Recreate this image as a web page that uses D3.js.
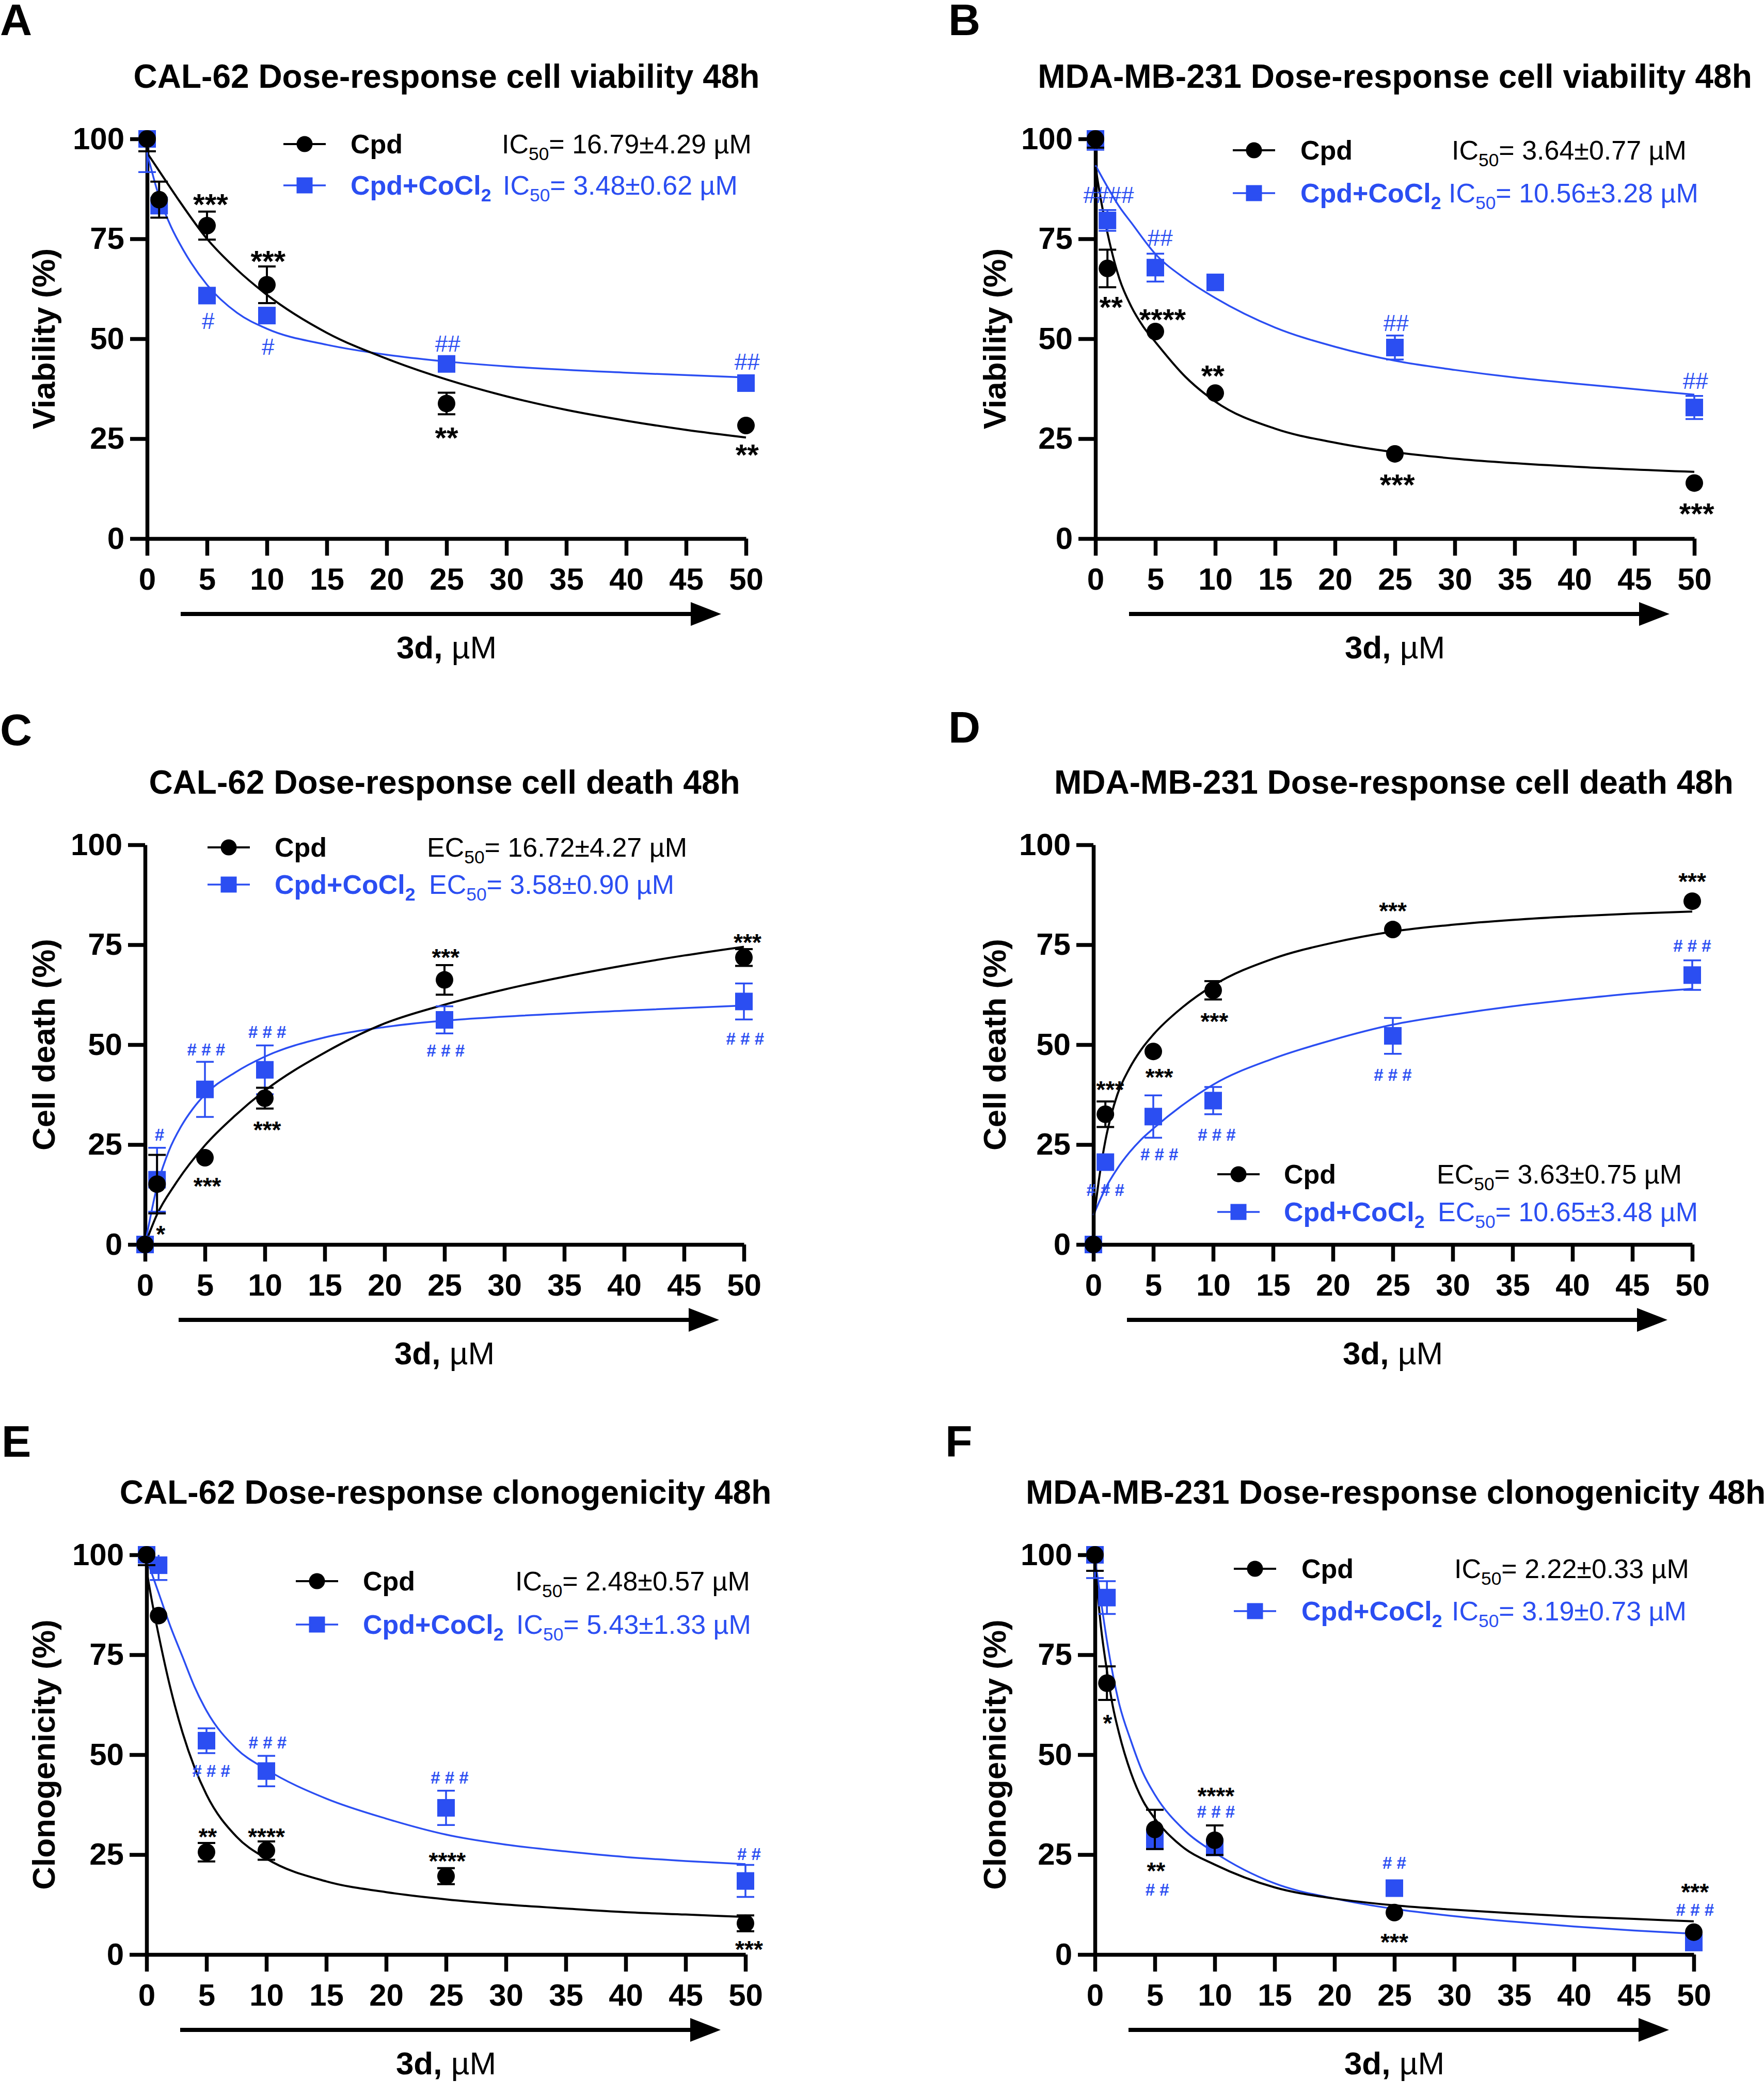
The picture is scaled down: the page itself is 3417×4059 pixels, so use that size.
<!DOCTYPE html>
<html><head><meta charset="utf-8">
<script src="https://cdn.jsdelivr.net/npm/d3@7"></script>
<style>
body{margin:0;background:#fff}
text{font-family:"Liberation Sans",Arial,Helvetica,sans-serif;white-space:pre}
</style>
</head><body>
<svg id="c" width="3417" height="4059" xmlns="http://www.w3.org/2000/svg"></svg>
<script>
// ---------------- DATA ----------------
const doses = [0, 1, 5, 10, 25, 50];
const xTicks = [0, 5, 10, 15, 20, 25, 30, 35, 40, 45, 50];
const yTicks = [0, 25, 50, 75, 100];
const seriesNames = ["Cpd", "Cpd+CoCl"];
const panelLetters = ["A", "B", "C", "D", "E", "F"];
const titles = [
  "CAL-62 Dose-response cell viability 48h",
  "MDA-MB-231 Dose-response cell viability 48h",
  "CAL-62 Dose-response cell death 48h",
  "MDA-MB-231 Dose-response cell death 48h",
  "CAL-62 Dose-response clonogenicity 48h",
  "MDA-MB-231 Dose-response clonogenicity 48h"
];
const yLabels = ["Viability (%)", "Viability (%)", "Cell death (%)", "Cell death (%)", "Clonogenicity (%)", "Clonogenicity (%)"];
const xLabelBold = "3d,";
const xLabelUnit = " µM";

// Panel A
const aCpd = [100, 84.8, 78.3, 63.5, 33.8, 28.3];
const aCpdSem = [3.1, 4.5, 3.5, 4.6, 2.7, 0];
const aCo = [100, 83.3, 60.8, 55.8, 43.7, 38.9];
const aCoSem = [8.3, 0, 0, 0, 0, 0];
const aCpdFit = [[0,96.5],[1,92],[2.5,85.3],[5,75],[7.5,67.3],[10,61],[15,51.5],[20,45],[25,39.8],[30,35.6],[35,32.2],[40,29.5],[45,27.2],[50,25.3]];
const aCoFit = [[0,96.5],[1,85.5],[2,78],[3,72.3],[5,63.5],[7.5,56.5],[10,52.5],[15,48.5],[20,46],[25,44.3],[30,43.1],[40,41.5],[50,40.3]];
const aMarks = [[5.3,85.3,"***",0],[10.1,71.2,"***",0],[25,27,"**",0],[50.1,22.7,"**",0],[5.1,54.5,"#",1],[10.1,48,"#",1],[25.1,48.8,"##",1],[50.1,44.2,"##",1]];
const aLegend = ["IC", "= 16.79±4.29 µM", "= 3.48±0.62 µM"];

// Panel B
const bCpd = [100, 67.6, 51.8, 36.4, 21.2, 13.9];
const bCpdSem = [2.2, 4.7, 0, 0, 0, 0];
const bCo = [100, 79.6, 67.8, 64.1, 47.8, 32.8];
const bCoSem = [2.7, 2.6, 3.5, 0, 3, 2.9];
const bCpdFit = [[0,93],[0.5,84],[1,76.5],[2,65],[3,58],[4,53],[5,49.2],[7.5,40.5],[10,34.3],[15,27.5],[20,24],[25,21.6],[30,20],[40,18],[50,16.7]];
const bCoFit = [[0,93.4],[1,88],[2,83],[3,79],[5,71.2],[7.5,65],[10,60.2],[15,52.8],[20,48],[25,44.5],[30,42.2],[35,40.3],[40,38.8],[45,37.4],[50,36]];
const bMarks = [[1.1,86,"####",1],[5.4,75.2,"##",1],[25.1,53.9,"##",1],[50.1,39.4,"##",1],[1.3,59.6,"**",0],[5.6,56.5,"****",0],[9.8,42.5,"**",0],[25.2,15.2,"***",0],[50.2,8,"***",0]];
const bLegend = ["IC", "= 3.64±0.77 µM", "= 10.56±3.28 µM"];

// Panel C
const cCpd = [0, 15.1, 21.7, 36.6, 66.2, 71.8];
const cCpdSem = [0, 7.3, 0, 2.6, 3.7, 2.1];
const cCo = [0, 16.2, 38.8, 43.7, 56.2, 60.8];
const cCoSem = [0, 8, 6.9, 6.1, 3.4, 4.5];
const cCpdFit = [[0,0],[1,7.5],[2.5,15],[5,24.8],[7.5,32.2],[10,38.5],[15,48],[20,55.3],[25,60],[30,63.8],[35,67],[40,69.8],[45,72.3],[50,74.5]];
const cCoFit = [[0,0],[1,14.5],[2,23.5],[3,29.5],[4,34],[5,37.5],[7.5,43],[10,47],[15,51.8],[20,54.4],[25,56],[30,57],[40,58.5],[50,59.8]];
const cMarks = [[1.3,4,"*",0],[5.2,16,"***",0],[10.2,30.1,"***",0],[25.1,73.2,"***",0],[50.3,76.9,"***",0],[1.2,27.4,"#",1],[5.1,48.8,"# # #",1],[10.2,53.2,"# # #",1],[25.1,48.5,"# # #",1],[50.1,51.5,"# # #",1]];
const cLegend = ["EC", "= 16.72±4.27 µM", "= 3.58±0.90 µM"];

// Panel D
const dCpd = [0, 32.6, 48.3, 63.6, 78.8, 85.9];
const dCpdSem = [0, 3.2, 0, 2.3, 0, 0];
const dCo = [0, 20.6, 32, 36, 52.2, 67.4];
const dCoSem = [0, 0, 5.3, 3.4, 4.5, 3.7];
const dCpdFit = [[0,5.5],[0.5,17],[1,26],[1.5,32.5],[2,37.5],[3,44],[4,48.8],[5,52.5],[7.5,59.5],[10,64.8],[15,71.5],[20,75.5],[25,78.3],[30,80],[35,81.2],[40,82.1],[45,82.8],[50,83.3]];
const dCoFit = [[0,7.3],[1,14],[2,19],[3,23],[4,26.3],[5,29],[7.5,35],[10,40],[15,46.5],[20,51.2],[25,55],[30,57.5],[35,59.6],[40,61.3],[45,62.8],[50,64]];
const dMarks = [[1.4,40.2,"***",0],[5.5,43.2,"***",0],[10.1,57.2,"***",0],[25,84.8,"***",0],[50,92.2,"***",0],[1,13.7,"# # #",1],[5.5,22.6,"# # #",1],[10.3,27.5,"# # #",1],[25,42.4,"# # #",1],[50,74.7,"# # #",1]];
const dLegend = ["EC", "= 3.63±0.75 µM", "= 10.65±3.48 µM"];

// Panel E
const eCpd = [100, 84.8, 25.6, 26, 19.6, 7.8];
const eCpdSem = [2.6, 0, 2.3, 2.3, 2, 2];
const eCo = [100, 97.4, 53.5, 45.9, 36.7, 18.4];
const eCoSem = [0, 3.7, 3.1, 3.8, 4.3, 4];
const eCpdFit = [[0,96],[0.5,87.5],[1,80],[2,66.5],[3,55.5],[4,46.8],[5,40],[7.5,29.5],[10,24],[15,18.3],[20,15.6],[25,13.8],[30,12.5],[35,11.5],[40,10.6],[45,10],[50,9.4]];
const eCoFit = [[0,99],[1,90.5],[2,82],[3,74.5],[4,67],[5,61],[7.5,51.5],[10,46.3],[15,39],[20,34],[25,30],[30,27.5],[35,25.8],[40,24.4],[45,23.4],[50,22.6]];
const eMarks = [[5.1,30.9,"**",0],[10,30.9,"****",0],[25.1,24.8,"****",0],[50.3,2.7,"***",0],[5.4,46,"# # #",1],[10.1,53.1,"# # #",1],[25.3,44.3,"# # #",1],[50.3,25.2,"# #",1]];
const eLegend = ["IC", "= 2.48±0.57 µM", "= 5.43±1.33 µM"];

// Panel F
const fCpd = [100, 67.9, 31.3, 28.6, 10.5, 5.6];
const fCpdSem = [4, 4.2, 4.9, 3.7, 0, 0];
const fCo = [100, 89.3, 28.8, 26.8, 16.6, 3];
const fCoSem = [5.8, 4.1, 2.4, 0, 1.5, 0];
const fCpdFit = [[0,98],[0.5,82],[1,71],[1.5,62],[2,55.5],[3,45.5],[4,38.5],[5,34],[7.5,26.5],[10,22.5],[15,16.8],[20,14],[25,12.3],[30,11.2],[35,10.3],[40,9.5],[45,8.9],[50,8.3]];
const fCoFit = [[0,99],[0.5,88.5],[1,78.5],[1.5,70],[2,63],[3,53.5],[4,45.5],[5,40],[7.5,31],[10,25.5],[15,17.8],[20,14],[25,11.4],[30,9.6],[35,8.2],[40,7],[45,6],[50,5.2]];
const fMarks = [[1.05,59.2,"*",0],[5.1,22.3,"**",0],[5.2,16.2,"# #",1],[10.1,41.1,"****",0],[10.1,35.7,"# # #",1],[25,4.5,"***",0],[25,22.9,"# #",1],[50.1,17,"***",0],[50.1,11.2,"# # #",1]];
const fLegend = ["IC", "= 2.22±0.33 µM", "= 3.19±0.73 µM"];

// ---------------- LAYOUT ----------------
const BLUE = "#2b4ef2";
const panels = [
  {cpd:aCpd, cpdSem:aCpdSem, co:aCo, coSem:aCoSem, cpdFit:aCpdFit, coFit:aCoFit, marks:aMarks, legend:aLegend,
   x0:285, yb:1043, letter:[0,68], title:[865,170,"middle"], ylabX:106,
   leg:{r1:279, r2:359, line:264, text:394, ic1:687, ic2:689}, ast:58, hash:44, hashBold:false},
  {cpd:bCpd, cpdSem:bCpdSem, co:bCo, coSem:bCoSem, cpdFit:bCpdFit, coFit:bCoFit, marks:bMarks, legend:bLegend,
   x0:2122, yb:1043, letter:[1837,68], title:[2702,170,"middle"], ylabX:1948,
   leg:{r1:291, r2:374, line:266, text:397, ic1:690, ic2:684}, ast:58, hash:44, hashBold:false},
  {cpd:cCpd, cpdSem:cCpdSem, co:cCo, coSem:cCoSem, cpdFit:cCpdFit, coFit:cCoFit, marks:cMarks, legend:cLegend,
   x0:281, yb:2410, letter:[0,1443], title:[861,1537,"middle"], ylabX:106,
   leg:{r1:1641, r2:1713, line:121, text:251, ic1:546, ic2:550}, ast:46, hash:33, hashBold:true},
  {cpd:dCpd, cpdSem:dCpdSem, co:dCo, coSem:dCoSem, cpdFit:dCpdFit, coFit:dCoFit, marks:dMarks, legend:dLegend,
   x0:2118, yb:2410, letter:[1837,1438], title:[2700,1537,"middle"], ylabX:1948,
   leg:{r1:2274, r2:2347, line:240, text:369, ic1:665, ic2:667}, ast:46, hash:33, hashBold:true},
  {cpd:eCpd, cpdSem:eCpdSem, co:eCo, coSem:eCoSem, cpdFit:eCpdFit, coFit:eCoFit, marks:eMarks, legend:eLegend,
   x0:284, yb:3785, letter:[3,2821], title:[863,2912,"middle"], ylabX:106,
   leg:{r1:3062, r2:3146, line:289, text:419, ic1:714, ic2:716}, ast:46, hash:33, hashBold:true},
  {cpd:fCpd, cpdSem:fCpdSem, co:fCo, coSem:fCoSem, cpdFit:fCpdFit, coFit:fCoFit, marks:fMarks, legend:fLegend,
   x0:2121, yb:3785, letter:[1831,2821], title:[1987,2912,"start"], ylabX:1948,
   leg:{r1:3038, r2:3120, line:269, text:400, ic1:696, ic2:691}, ast:46, hash:33, hashBold:true}
];
const PW = 1160, PH = 774;

const svg = d3.select("#c");
svg.append("rect").attr("width",3417).attr("height",4059).attr("fill","#fff");

function rich(sel, x, y, segs, size, color, anchor){
  const t = sel.append("text").attr("x",x).attr("y",y).attr("font-size",size).attr("fill",color)
    .attr("text-anchor", anchor || "start");
  let shifted = false;
  segs.forEach(([s, st]) => {
    const ts = t.append("tspan").text(s);
    ts.attr("font-weight", st.includes("b") ? "bold" : "normal");
    if (st.includes("s")) { ts.attr("font-size", size*0.68).attr("dy", size*0.25); shifted = true; }
    else if (shifted) { ts.attr("dy", -size*0.25); shifted = false; }
  });
  return t;
}

panels.forEach((p, i) => {
  const g = svg.append("g");
  const x = d3.scaleLinear().domain([0, 50]).range([p.x0, p.x0 + PW]);
  const y = d3.scaleLinear().domain([0, 100]).range([p.yb, p.yb - PH]);

  // letter & title
  g.append("text").attr("x", p.letter[0]).attr("y", p.letter[1]).attr("font-size", 86)
    .attr("font-weight","bold").text(panelLetters[i]);
  g.append("text").attr("x", p.title[0]).attr("y", p.title[1]).attr("text-anchor", p.title[2])
    .attr("font-size", 64).attr("font-weight","bold").text(titles[i]);

  // axes
  const gx = g.append("g").attr("transform",`translate(0,${p.yb})`)
    .call(d3.axisBottom(x).tickValues(xTicks).tickSize(33).tickSizeOuter(0).tickPadding(23));
  const gy = g.append("g").attr("transform",`translate(${p.x0},0)`)
    .call(d3.axisLeft(y).tickValues(yTicks).tickSize(33).tickSizeOuter(0).tickPadding(11));
  [gx, gy].forEach(a => {
    a.attr("font-size", 60).attr("font-family", '"Liberation Sans",Arial,sans-serif').attr("font-weight","bold");
    a.selectAll("path,line").attr("stroke","#000").attr("stroke-width",7.5);
    a.selectAll("text").attr("fill","#000");
  });

  // y label
  g.append("text").attr("transform",`translate(${p.ylabX},${p.yb - PH/2}) rotate(-90)`)
    .attr("text-anchor","middle").attr("font-size",62).attr("font-weight","bold").text(yLabels[i]);

  // arrow and x label
  const ay = p.yb + 146;
  g.append("line").attr("x1", p.x0 + 65).attr("x2", p.x0 + 1060).attr("y1", ay).attr("y2", ay)
    .attr("stroke","#000").attr("stroke-width",8);
  g.append("path").attr("d",`M${p.x0+1053},${ay-23}L${p.x0+1112},${ay}L${p.x0+1053},${ay+23}Z`).attr("fill","#000");
  rich(g, p.x0 + PW/2, p.yb + 232, [[xLabelBold,"b"],[xLabelUnit,"n"]], 62, "#000", "middle");

  // curves
  const line = d3.line().x(d => x(d[0])).y(d => y(d[1])).curve(d3.curveMonotoneX);
  g.append("path").attr("d", line(p.coFit)).attr("fill","none").attr("stroke",BLUE).attr("stroke-width",3.5);
  g.append("path").attr("d", line(p.cpdFit)).attr("fill","none").attr("stroke","#000").attr("stroke-width",4);

  function errors(vals, sems, color, sw){
    const eg = g.append("g").attr("stroke", color).attr("stroke-width", sw);
    doses.forEach((d, k) => {
      const s = sems[k]; if (!s) return;
      const lo = vals[k] - s, hi = vals[k] + s;
      const loC = Math.max(0, lo), hiC = Math.min(100, hi);
      eg.append("line").attr("x1", x(d)).attr("x2", x(d)).attr("y1", y(loC)).attr("y2", y(hiC));
      if (lo >= 0) eg.append("line").attr("x1", x(d)-17).attr("x2", x(d)+17).attr("y1", y(lo)).attr("y2", y(lo));
      if (hi <= 100) eg.append("line").attr("x1", x(d)-17).attr("x2", x(d)+17).attr("y1", y(hi)).attr("y2", y(hi));
    });
  }
  errors(p.co, p.coSem, BLUE, 3.5);
  g.append("g").selectAll("rect").data(doses).join("rect")
    .attr("x", (d) => x(d) - 17).attr("y", (d, k) => y(p.co[k]) - 17)
    .attr("width", 34).attr("height", 34).attr("fill", BLUE);
  errors(p.cpd, p.cpdSem, "#000", 4);
  g.append("g").selectAll("circle").data(doses).join("circle")
    .attr("cx", (d) => x(d)).attr("cy", (d, k) => y(p.cpd[k])).attr("r", 17).attr("fill","#000");

  // significance marks
  p.marks.forEach(([mx, my, txt, s]) => {
    if (s === 0) {
      g.append("text").attr("x", x(mx)).attr("y", y(my) + 0.58*p.ast).attr("text-anchor","middle")
        .attr("font-size", p.ast).attr("font-weight","bold").attr("fill","#000").text(txt);
    } else {
      g.append("text").attr("x", x(mx)).attr("y", y(my) + 0.35*p.hash).attr("text-anchor","middle")
        .attr("font-size", p.hash).attr("font-weight", p.hashBold ? "bold" : "normal").attr("fill",BLUE).text(txt);
    }
  });

  // legend
  const L = p.leg;
  const lx1 = p.x0 + L.line, lx2 = lx1 + 82, lm = (lx1 + lx2)/2;
  g.append("line").attr("x1",lx1).attr("x2",lx2).attr("y1",L.r1).attr("y2",L.r1).attr("stroke","#000").attr("stroke-width",4);
  g.append("circle").attr("cx",lm).attr("cy",L.r1).attr("r",15.5).attr("fill","#000");
  g.append("line").attr("x1",lx1).attr("x2",lx2).attr("y1",L.r2).attr("y2",L.r2).attr("stroke",BLUE).attr("stroke-width",3.5);
  g.append("rect").attr("x",lm-15.5).attr("y",L.r2-15.5).attr("width",31).attr("height",31).attr("fill",BLUE);
  rich(g, p.x0 + L.text, L.r1 + 18, [[seriesNames[0],"b"]], 52, "#000");
  rich(g, p.x0 + L.text, L.r2 + 18, [[seriesNames[1],"b"],["2","sb"]], 52, BLUE);
  rich(g, p.x0 + L.ic1, L.r1 + 18, [[p.legend[0],"n"],["50","s"],[p.legend[1],"n"]], 52, "#000");
  rich(g, p.x0 + L.ic2, L.r2 + 18, [[p.legend[0],"n"],["50","s"],[p.legend[2],"n"]], 52, BLUE);
});
</script>
</body></html>
